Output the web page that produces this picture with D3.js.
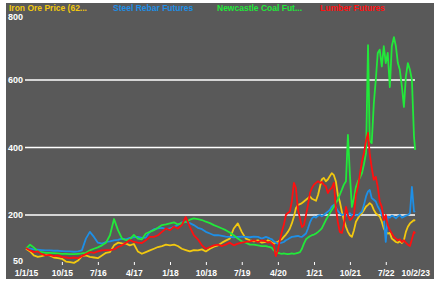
<!DOCTYPE html>
<html><head><meta charset="utf-8">
<script src="https://cdn.jsdelivr.net/npm/d3@7"></script>
<style>
body{margin:0;background:#fff;}
svg{display:block;}
text{font-family:"Liberation Sans",Arial,sans-serif;}
</style></head>
<body><svg id="c" width="445" height="282"></svg>
<script>
// ---- data ----
const seriesNames = ["Iron Ore Price (62...", "Steel Rebar Futures", "Newcastle Coal Fut...", "Lumber Futures"];
const seriesColors = ["#f2c80f", "#1e8fe6", "#22e83a", "#ff1010"];

const monthlyDates = [
"2015-01-01","2015-02-01","2015-03-01","2015-04-01","2015-05-01","2015-06-01","2015-07-01","2015-08-01","2015-09-01","2015-10-01","2015-11-01","2015-12-01",
"2016-01-01","2016-02-01","2016-03-01","2016-04-01","2016-05-01","2016-06-01","2016-07-01","2016-08-01","2016-09-01","2016-10-01","2016-11-01","2016-12-01",
"2017-01-01","2017-02-01","2017-03-01","2017-04-01","2017-05-01","2017-06-01","2017-07-01","2017-08-01","2017-09-01","2017-10-01","2017-11-01","2017-12-01",
"2018-01-01","2018-02-01","2018-03-01","2018-04-01","2018-05-01","2018-06-01","2018-07-01","2018-08-01","2018-09-01","2018-10-01","2018-11-01","2018-12-01",
"2019-01-01","2019-02-01","2019-03-01","2019-04-01","2019-05-01","2019-06-01","2019-07-01","2019-08-01","2019-09-01","2019-10-01","2019-11-01","2019-12-01"];
const halfMonthDates = [
"2020-01-01","2020-01-16","2020-02-01","2020-02-16","2020-03-01","2020-03-16","2020-04-01","2020-04-16","2020-05-01","2020-05-16","2020-06-01","2020-06-16",
"2020-07-01","2020-07-16","2020-08-01","2020-08-16","2020-09-01","2020-09-16","2020-10-01","2020-10-16","2020-11-01","2020-11-16","2020-12-01","2020-12-16",
"2021-01-01","2021-01-16","2021-02-01","2021-02-16","2021-03-01","2021-03-16","2021-04-01","2021-04-16","2021-05-01","2021-05-16","2021-06-01","2021-06-16",
"2021-07-01","2021-07-16","2021-08-01","2021-08-16","2021-09-01","2021-09-16","2021-10-01","2021-10-16","2021-11-01","2021-11-16","2021-12-01","2021-12-16",
"2022-01-01","2022-01-16","2022-02-01","2022-02-16","2022-03-01","2022-03-16","2022-04-01","2022-04-16","2022-05-01","2022-05-16","2022-06-01","2022-06-16",
"2022-07-01","2022-07-16","2022-08-01","2022-08-16","2022-09-01","2022-09-16","2022-10-01","2022-10-16","2022-11-01","2022-11-16","2022-12-01","2022-12-16",
"2023-01-01","2023-01-16","2023-02-01","2023-02-10"];
const dates = monthlyDates.concat(halfMonthDates);

const ironOre = [
100,92,80,76,78,82,80,74,72,70,62,60,
58,65,78,80,76,74,72,80,88,90,110,118,
116,115,110,114,92,85,90,95,100,105,108,112,
110,112,108,100,96,92,96,95,98,92,100,106,
110,118,124,130,160,175,150,130,125,122,125,118,
120,125,122,118,115,118,120,125,128,135,142,150,
160,175,195,220,230,232,235,240,245,250,255,248,
245,242,260,285,305,310,300,305,315,324,318,300,
260,240,210,185,165,150,140,135,155,180,190,200,
206,215,225,230,235,230,215,205,200,195,180,160,
150,145,147,130,125,120,118,122,117,125,150,165,
175,180,185,183];

const steelRebar = [
102,100,98,97,96,95,95,94,94,93,92,92,
91,92,95,130,150,135,118,115,120,122,125,126,
130,128,132,134,135,132,133,150,158,160,162,158,
160,165,170,178,180,176,170,162,158,150,145,140,
140,138,136,135,134,135,136,135,134,136,135,130,
135,133,130,128,122,118,115,117,118,120,125,128,
132,135,136,137,138,136,135,140,145,160,178,190,
195,192,198,200,196,200,205,210,215,225,230,222,
212,205,200,202,198,200,205,198,202,200,198,205,
210,230,255,270,274,250,245,240,225,215,200,190,
120,195,192,198,195,190,196,200,192,195,198,200,
205,283,210,212];

const newcastleCoal = [
100,112,104,92,90,88,88,87,86,85,85,84,
84,85,86,88,95,100,104,110,118,140,188,155,
130,125,128,141,130,128,145,150,155,162,170,172,
175,178,172,176,180,186,190,188,185,180,176,170,
165,160,155,148,140,130,122,118,112,112,110,108,
108,106,105,102,95,90,88,86,85,86,85,84,
85,86,85,86,88,90,100,115,128,133,137,140,
142,145,150,155,160,172,185,195,205,215,225,235,
245,260,275,290,300,437,320,224,250,283,300,310,
324,350,384,703,420,413,530,600,680,690,640,700,
650,680,579,700,727,700,650,630,580,520,610,650,
630,600,431,393];

const lumber = [
102,95,90,92,84,80,82,78,80,76,74,72,
74,72,78,84,90,88,92,95,96,96,98,105,
110,118,126,120,118,117,125,135,135,140,150,160,
155,165,160,170,194,165,140,128,110,100,105,110,
112,108,112,118,110,115,118,120,122,125,120,125,
122,118,120,115,110,78,95,125,150,170,200,206,
210,240,295,280,215,190,164,170,200,230,265,280,
290,295,300,295,298,290,285,265,275,280,295,220,
180,150,147,170,224,200,185,190,200,260,283,320,
360,384,420,443,380,340,304,313,283,240,224,185,
200,170,155,145,135,130,125,128,120,125,118,112,
108,128,150,145];

const seriesValues = [ironOre, steelRebar, newcastleCoal, lumber];

const yTickValues = [50, 200, 400, 600, 800];
const gridValues = [200, 400, 600];
const xTickDates = ["2015-01-01","2015-10-01","2016-07-01","2017-04-01","2018-01-01","2018-10-01","2019-07-01","2020-04-01","2021-01-01","2021-10-01","2022-07-01","2023-02-10"];
const xTickLabels = ["1/1/15","10/15","7/16","4/17","1/18","10/18","7/19","4/20","1/21","10/21","7/22","10/2/23"];

// ---- drawing ----
const parse = d3.timeParse("%Y-%m-%d");
const svg = d3.select("#c");

svg.append("rect").attr("x", 6).attr("y", 3).attr("width", 428).attr("height", 276).attr("fill", "#595959");

const x = d3.scaleTime().domain([parse("2015-01-01"), parse("2023-02-10")]).range([26, 415.2]);
const y = d3.scaleLinear().domain([50, 800]).range([265.6, 12.5]);

// gridlines
svg.append("g").selectAll("line").data(gridValues).join("line")
  .attr("x1", 25).attr("x2", 415)
  .attr("y1", d => y(d)).attr("y2", d => y(d))
  .attr("stroke", "#fff").attr("stroke-width", 1.5);

// y labels
svg.append("g").selectAll("text").data(yTickValues).join("text")
  .attr("x", 23)
  .attr("y", d => y(d) + (d === 50 ? -5 : d === 800 ? 4.2 : 0))
  .attr("dy", "0.35em")
  .attr("text-anchor", "end")
  .attr("fill", "#fff").attr("font-size", "9px").attr("font-weight", "bold")
  .text(d => d);

// x axis
const xTicks = xTickDates.map(parse);
const xAxis = d3.axisBottom(x).tickValues(xTicks).tickSize(3).tickPadding(5)
  .tickFormat((d, i) => xTickLabels[i]);
const gx = svg.append("g").attr("transform", "translate(0,262)").call(xAxis);
gx.select(".domain").remove();
gx.selectAll(".tick line").attr("stroke", "#fff")
  .attr("opacity", (d, i) => (i === 0 || i === xTicks.length - 1) ? 0 : 1);
gx.selectAll(".tick text").attr("fill", "#fff").attr("font-size", "8.5px")
  .attr("font-weight", "bold").attr("font-family", "'Liberation Sans',Arial,sans-serif");

// lines
const parsedDates = dates.map(parse);
const line = d3.line().x(d => x(d[0])).y(d => y(d[1]));
seriesValues.forEach((vals, i) => {
  const pts = vals.map((v, j) => [parsedDates[j], v]);
  svg.append("path").datum(pts).attr("d", line)
    .attr("fill", "none").attr("stroke", seriesColors[i])
    .attr("stroke-width", 1.8).attr("stroke-linejoin", "round");
});

// legend
const legendX = [9, 113, 217, 320];
svg.append("g").selectAll("text").data(seriesNames).join("text")
  .attr("x", (d, i) => legendX[i]).attr("y", 10.5)
  .attr("fill", (d, i) => seriesColors[i])
  .attr("font-size", "8.5px").attr("font-weight", "bold")
  .text(d => d);
</script></body></html>
